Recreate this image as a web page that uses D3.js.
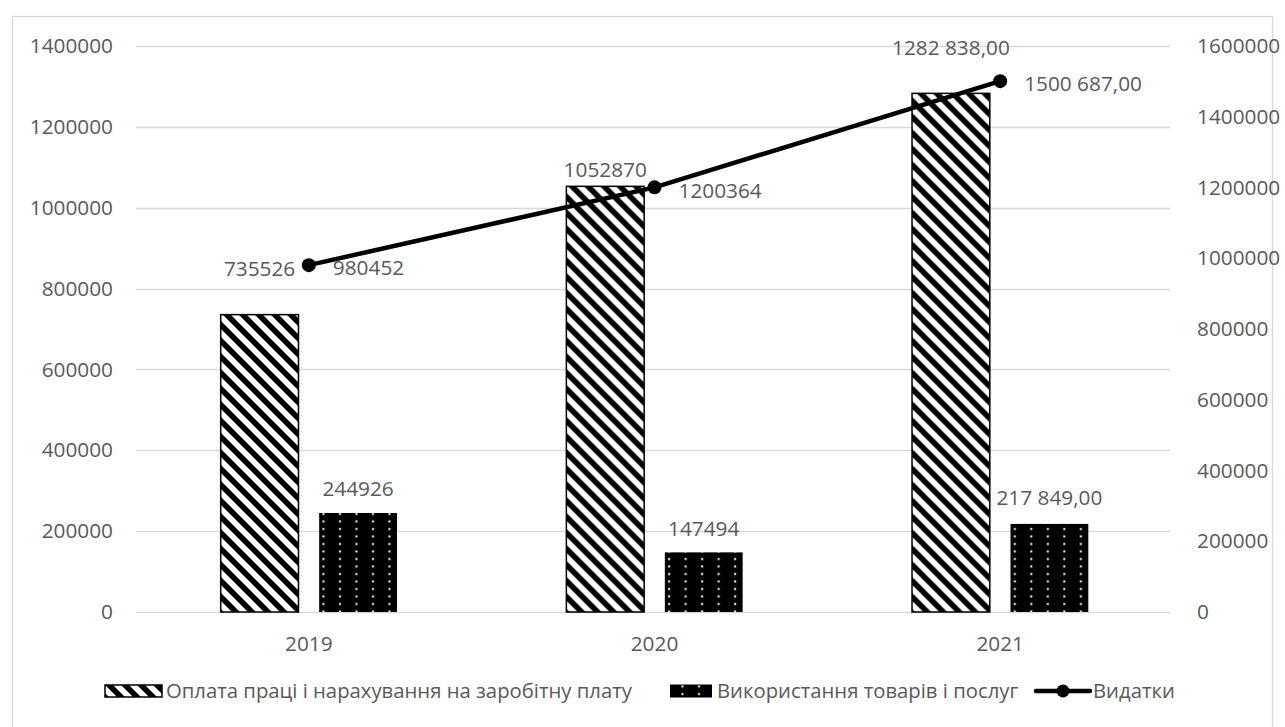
<!DOCTYPE html>
<html>
<head>
<meta charset="utf-8">
<script src="https://cdn.jsdelivr.net/npm/d3@7"></script>
<style>
  html, body { margin: 0; padding: 0; background: #ffffff; }
  svg { display: block; }
  text { font-family: "Open Sans", "Noto Sans", sans-serif; fill: #595959; }
</style>
</head>
<body>
<svg id="chart" width="1285" height="727"></svg>
<script>
// ---- data ----
const years = ["2019", "2020", "2021"];
const wages = [735526, 1052870, 1282838];          // Оплата праці і нарахування на заробітну плату
const goods = [244926, 147494, 217849];            // Використання товарів і послуг
const spending = [980452, 1200364, 1500687];       // Видатки (права вісь)
const leftTicks = [0, 200000, 400000, 600000, 800000, 1000000, 1200000, 1400000];
const rightTicks = [0, 200000, 400000, 600000, 800000, 1000000, 1200000, 1400000, 1600000];
const decimalYears = ["2021"];                     // values shown with two decimals
const seriesNames = ["Оплата праці і нарахування на заробітну плату", "Використання товарів і послуг", "Видатки"];

// ---- layout ----
const plot = { left: 136, right: 1173, top: 46, bottom: 612 };
const numSize = 20.8;
const legSize = 20.3;

const svg = d3.select("#chart");

// fill patterns
const defs = svg.append("defs");
const hatch = defs.append("pattern")
  .attr("id", "hatch").attr("patternUnits", "userSpaceOnUse")
  .attr("width", 16).attr("height", 16);
hatch.append("rect").attr("width", 16).attr("height", 16).attr("fill", "#fff");
hatch.append("path")
  .attr("d", "M-8,-8 L24,24 M-16,0 L16,32 M0,-16 L32,16")
  .attr("stroke", "#000").attr("stroke-width", 5.6);

const dots = defs.append("pattern")
  .attr("id", "dots").attr("patternUnits", "userSpaceOnUse")
  .attr("width", 16.5).attr("height", 7.5);
dots.append("rect").attr("width", 16.5).attr("height", 7.5).attr("fill", "#000");
dots.append("rect").attr("x", 5).attr("y", 3).attr("width", 2).attr("height", 2).attr("fill", "#fff");

// outer frame
svg.append("rect")
  .attr("x", 12.5).attr("y", 16.5).attr("width", 1260).attr("height", 730)
  .attr("fill", "none").attr("stroke", "#d9d9d9").attr("stroke-width", 1.3);

// scales
const x0 = d3.scaleBand().domain(years).range([plot.left, plot.right]).padding(0);
const x1 = d3.scaleBand().domain(["wages", "goods"]).range([0, x0.bandwidth()])
  .paddingInner(0.21).paddingOuter(0.86);
const yL = d3.scaleLinear().domain([0, 1400000]).range([plot.bottom, plot.top]);
const yR = d3.scaleLinear().domain([0, 1600000]).range([plot.bottom, plot.top]);

// gridlines
svg.append("g").selectAll("line").data(leftTicks).join("line")
  .attr("x1", plot.left).attr("x2", plot.right - 3)
  .attr("y1", d => Math.round(yL(d)) + 0.5).attr("y2", d => Math.round(yL(d)) + 0.5)
  .attr("stroke", "#d9d9d9").attr("stroke-width", 1.3);

// axes (labels only, no domain line)
const axL = svg.append("g").attr("transform", `translate(${plot.left},0)`)
  .call(d3.axisLeft(yL).tickValues(leftTicks).tickSize(0).tickPadding(23).tickFormat(d3.format("d")));
const axR = svg.append("g").attr("transform", `translate(${plot.right},0)`)
  .call(d3.axisRight(yR).tickValues(rightTicks).tickSize(0).tickPadding(24).tickFormat(d3.format("d")));
const axB = svg.append("g").attr("transform", `translate(0,${plot.bottom})`)
  .call(d3.axisBottom(x0).tickSize(0).tickPadding(24));
[axL, axR, axB].forEach(g => {
  g.select(".domain").remove();
  g.selectAll("text").attr("font-size", numSize).attr("fill", "#595959")
    .attr("font-family", "'Open Sans', sans-serif");
});

// number formats
const plain = d3.format("d");
const uaLocale = d3.formatLocale({ decimal: ",", thousands: " ", grouping: [3, 9], currency: ["", ""] });
const withDec = uaLocale.format(",.2f");
const fmt = (v, yr) => decimalYears.includes(yr) ? withDec(v) : plain(v);

// bars
const barData = years.map((yr, i) => ({ yr, wages: wages[i], goods: goods[i] }));
const groups = svg.append("g").selectAll("g").data(barData).join("g")
  .attr("transform", d => `translate(${x0(d.yr)},0)`);

groups.append("rect")
  .attr("x", x1("wages")).attr("width", x1.bandwidth())
  .attr("y", d => yL(d.wages)).attr("height", d => yL(0) - yL(d.wages))
  .attr("fill", "url(#hatch)").attr("stroke", "#000").attr("stroke-width", 1.5);

groups.append("rect")
  .attr("x", x1("goods")).attr("width", x1.bandwidth())
  .attr("y", d => yL(d.goods)).attr("height", d => yL(0) - yL(d.goods))
  .attr("fill", "url(#dots)");

// bar value labels (vertical offset from bar top)
const wageLabelLift = [46, 17, 46];
const goodsLabelLift = [24, 24, 26];
groups.append("text")
  .attr("x", x1("wages") + x1.bandwidth() / 2)
  .attr("y", (d, i) => yL(d.wages) - wageLabelLift[i])
  .attr("dy", "0.35em").attr("text-anchor", "middle").attr("font-size", numSize)
  .text(d => fmt(d.wages, d.yr));
groups.append("text")
  .attr("x", x1("goods") + x1.bandwidth() / 2)
  .attr("y", (d, i) => yL(d.goods) - goodsLabelLift[i])
  .attr("dy", "0.35em").attr("text-anchor", "middle").attr("font-size", numSize)
  .text(d => fmt(d.goods, d.yr));

// spending line (secondary axis)
const lineData = years.map((yr, i) => ({ yr, v: spending[i] }));
const cx = d => x0(d.yr) + x0.bandwidth() / 2;
svg.append("path").datum(lineData)
  .attr("d", d3.line().x(cx).y(d => yR(d.v)))
  .attr("fill", "none").attr("stroke", "#000").attr("stroke-width", 4.5)
  .attr("stroke-linecap", "round");
svg.append("g").selectAll("circle").data(lineData).join("circle")
  .attr("cx", cx).attr("cy", d => yR(d.v)).attr("r", 7).attr("fill", "#000");
svg.append("g").selectAll("text").data(lineData).join("text")
  .attr("x", d => cx(d) + 24).attr("y", d => yR(d.v) + 3)
  .attr("dy", "0.35em").attr("font-size", numSize)
  .text(d => fmt(d.v, d.yr));

// legend
const legY = 691;
const leg = svg.append("g");
leg.append("rect").attr("x", 105).attr("y", legY - 6).attr("width", 57).attr("height", 12)
  .attr("fill", "url(#hatch)").attr("stroke", "#000").attr("stroke-width", 1.5);
leg.append("text").attr("x", 166).attr("y", legY).attr("dy", "0.35em").attr("font-size", legSize)
  .text(seriesNames[0]);
leg.append("rect").attr("x", 670).attr("y", legY - 6.5).attr("width", 42).attr("height", 13)
  .attr("fill", "url(#dots)");
leg.append("text").attr("x", 717).attr("y", legY).attr("dy", "0.35em").attr("font-size", legSize)
  .text(seriesNames[1]);
leg.append("line").attr("x1", 1036).attr("x2", 1090).attr("y1", legY).attr("y2", legY)
  .attr("stroke", "#000").attr("stroke-width", 4.5).attr("stroke-linecap", "round");
leg.append("circle").attr("cx", 1063).attr("cy", legY).attr("r", 6.5).attr("fill", "#000");
leg.append("text").attr("x", 1093).attr("y", legY).attr("dy", "0.35em").attr("font-size", legSize)
  .text(seriesNames[2]);
</script>
</body>
</html>
